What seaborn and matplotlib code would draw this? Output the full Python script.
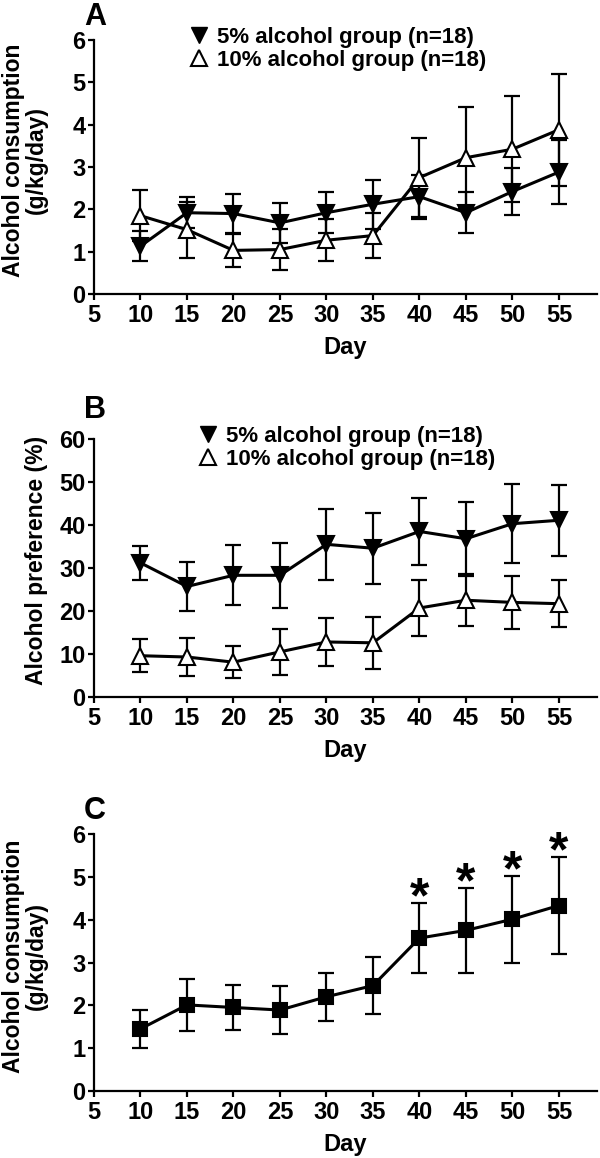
import numpy as np
import pandas as pd
import matplotlib
matplotlib.use("Agg")
import matplotlib.pyplot as plt
from matplotlib.lines import Line2D
import seaborn as sns

# DATA (mean +/- SEM)
days = [10, 15, 20, 25, 30, 35, 40, 45, 50, 55]

a_5_mean = [1.13, 1.92, 1.90, 1.68, 1.92, 2.12, 2.30, 1.92, 2.42, 2.88]
a_5_err = [0.35, 0.37, 0.47, 0.47, 0.48, 0.58, 0.52, 0.48, 0.56, 0.75]
a_10_mean = [1.85, 1.52, 1.03, 1.05, 1.27, 1.38, 2.75, 3.22, 3.42, 3.88]
a_10_err = [0.60, 0.66, 0.39, 0.48, 0.49, 0.54, 0.93, 1.20, 1.25, 1.32]

b_5_mean = [31.2, 25.7, 28.3, 28.3, 35.5, 34.6, 38.5, 36.8, 40.3, 41.1]
b_5_err = [4.0, 5.6, 7.0, 7.5, 8.3, 8.3, 7.8, 8.6, 9.2, 8.3]
b_10_mean = [9.6, 9.3, 8.1, 10.5, 12.8, 12.6, 20.7, 22.5, 22.0, 21.7]
b_10_err = [3.8, 4.4, 3.7, 5.4, 5.6, 6.0, 6.5, 6.1, 6.2, 5.5]

c_mean = [1.45, 2.01, 1.95, 1.89, 2.20, 2.46, 3.57, 3.75, 4.01, 4.33]
c_err = [0.44, 0.60, 0.53, 0.55, 0.56, 0.67, 0.82, 0.99, 1.01, 1.14]
c_star_days = [40, 45, 50, 55]

legend_labels = ["5% alcohol group (n=18)", "10% alcohol group (n=18)"]

sns.set_theme(style="ticks")
plt.rcParams["font.family"] = ["Liberation Sans", "DejaVu Sans"]
plt.rcParams["font.weight"] = "bold"
plt.rcParams["axes.labelweight"] = "bold"
plt.rcParams["text.color"] = "black"
plt.rcParams["axes.labelcolor"] = "black"
plt.rcParams["xtick.color"] = "black"
plt.rcParams["ytick.color"] = "black"

fig = plt.figure(figsize=(6, 11.58), dpi=100)
W, H = 600, 1158


def add_axes(top_px, bottom_px):
    return fig.add_axes([94 / W, 1 - bottom_px / H, 503 / W, (bottom_px - top_px) / H])


def draw_series(ax, mean, err, marker, face, ms=12):
    ax.errorbar(days, mean, yerr=err, fmt="none", ecolor="black",
                elinewidth=1.6, capsize=5.5, capthick=1.6, zorder=2)
    df = pd.DataFrame({"day": days, "value": mean})
    sns.lineplot(data=df, x="day", y="value", ax=ax, color="black",
                 linewidth=2.2, marker=marker, markersize=ms,
                 markerfacecolor=face, markeredgecolor="black",
                 markeredgewidth=1.5, zorder=3)


def style_axes(ax, ymax, ystep):
    ax.set_xlim(5, 59.1)
    ax.set_ylim(0, ymax)
    ax.set_xticks(range(5, 60, 5))
    ax.set_yticks(np.arange(0, ymax + ystep / 2, ystep))
    for s in ["top", "right"]:
        ax.spines[s].set_visible(False)
    for s in ["left", "bottom"]:
        ax.spines[s].set_linewidth(1.6)
        ax.spines[s].set_color("black")
    ax.tick_params(axis="both", width=1.6, length=4, labelsize=17,
                   color="black", labelcolor="black")
    ax.tick_params(axis="x", pad=3)
    ax.tick_params(axis="y", pad=2)
    for lab in ax.get_xticklabels() + ax.get_yticklabels():
        lab.set_fontweight("bold")
    ax.set_xlabel("Day", fontsize=17, fontweight="bold", labelpad=7)


def add_legend(ax, x_px, top_px):
    handles = [
        Line2D([], [], linestyle="none", marker="v", markersize=12,
               markerfacecolor="black", markeredgecolor="black"),
        Line2D([], [], linestyle="none", marker="^", markersize=12,
               markerfacecolor="white", markeredgecolor="black",
               markeredgewidth=1.5),
    ]
    ax.legend(handles, legend_labels, loc="upper left",
              bbox_to_anchor=(x_px / W, 1 - top_px / H),
              bbox_transform=fig.transFigure, frameon=False,
              prop={"size": 16, "weight": "bold"}, handlelength=0.95,
              handletextpad=0.35, labelspacing=0.08, borderpad=0,
              borderaxespad=0)


# Panel A
ax_a = add_axes(40, 294)
draw_series(ax_a, a_10_mean, a_10_err, "^", "white")
draw_series(ax_a, a_5_mean, a_5_err, "v", "black")
style_axes(ax_a, 6, 1)
ax_a.set_ylabel("Alcohol consumption\n(g/kg/day)", fontsize=16.5,
                fontweight="bold", linespacing=1.0)
ax_a.yaxis.set_label_coords(-0.092, 0.528)
add_legend(ax_a, 188, 27)

# Panel B
ax_b = add_axes(439, 697)
draw_series(ax_b, b_10_mean, b_10_err, "^", "white")
draw_series(ax_b, b_5_mean, b_5_err, "v", "black")
style_axes(ax_b, 60, 10)
ax_b.set_ylabel("Alcohol preference (%)", fontsize=16.5, fontweight="bold")
ax_b.yaxis.set_label_coords(-0.092, 0.53)
add_legend(ax_b, 197, 426)

# Panel C
ax_c = add_axes(834, 1091)
draw_series(ax_c, c_mean, c_err, "s", "black", ms=10)
style_axes(ax_c, 6, 1)
ax_c.set_ylabel("Alcohol consumption\n(g/kg/day)", fontsize=16.5,
                fontweight="bold", linespacing=1.0)
ax_c.yaxis.set_label_coords(-0.092, 0.525)
for d in c_star_days:
    i = days.index(d)
    ax_c.annotate("*", xy=(d, c_mean[i] + c_err[i]), xytext=(0, -14),
                  textcoords="offset points", ha="center", va="bottom",
                  fontsize=36, fontweight="bold")

# Panel letters
for letter, y_px in [("A", 17), ("B", 410), ("C", 811)]:
    fig.text(95 / W, 1 - y_px / H, letter, ha="center", va="center",
             fontsize=22, fontweight="bold")

fig.savefig("out.png", dpi=100, facecolor="white")
